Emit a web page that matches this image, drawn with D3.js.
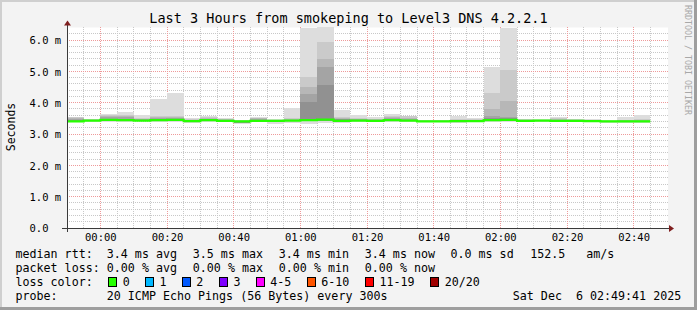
<!DOCTYPE html>
<html><head><meta charset="utf-8">
<script src="https://cdn.jsdelivr.net/npm/d3@7"></script>
<style>
html,body{margin:0;padding:0;background:#f3f3f3;}
svg{display:block;font-family:"DejaVu Sans Mono",monospace;}
text{white-space:pre;}
</style></head><body>
<svg id="chart" width="697" height="310"></svg>
<script>
// ---------- data ----------
const title = "Last 3 Hours from smokeping to Level3 DNS 4.2.2.1";
const yAxisTitle = "Seconds";
const watermark = "RRDTOOL / TOBI OETIKER";
const rangeStart = "2025-12-05T23:50:00";
const rangeEnd   = "2025-12-06T02:50:00";
const yTicks = [0, 1, 2, 3, 4, 5, 6];
const yTickLabels = ["0.0", "1.0 m", "2.0 m", "3.0 m", "4.0 m", "5.0 m", "6.0 m"];
const xTickLabels = ["00:00","00:20","00:40","01:00","01:20","01:40","02:00","02:20","02:40"];

// one value per 5-minute step starting 23:50 (ms)
const median  = [3.40,3.43,3.45,3.44,3.43,3.44,3.45,3.41,3.44,3.42,3.40,3.42,3.42,3.43,3.44,3.46,3.42,3.43,3.42,3.44,3.43,3.40,3.40,3.41,3.41,3.44,3.45,3.42,3.43,3.42,3.42,3.41,3.40,3.40,3.40];
const pingMax = [3.55,3.48,3.64,3.71,3.60,4.12,4.32,3.50,3.57,3.51,3.45,3.55,3.48,3.84,6.38,6.40,3.78,3.60,3.53,3.64,3.59,3.46,3.46,3.57,3.50,5.15,6.38,3.49,3.48,3.55,3.49,3.48,3.45,3.55,3.60];
const ping2   = [3.53,3.47,3.60,3.62,3.52,3.56,3.58,3.48,3.53,3.49,3.44,3.52,3.46,3.50,4.82,5.94,3.55,3.52,3.49,3.57,3.56,3.44,3.44,3.48,3.47,4.32,5.03,3.47,3.46,3.50,3.47,3.46,3.43,3.46,3.47];
const ping3   = [3.51,3.46,3.57,3.58,3.49,3.53,3.54,3.46,3.50,3.47,3.43,3.50,3.45,3.48,4.50,5.40,3.52,3.49,3.47,3.53,3.52,3.43,3.43,3.46,3.45,3.81,4.05,3.45,3.45,3.48,3.45,3.44,3.42,3.44,3.45];
const ping4   = [3.49,3.45,3.53,3.53,3.47,3.50,3.50,3.45,3.48,3.46,3.42,3.48,3.44,3.46,4.29,5.14,3.49,3.47,3.45,3.50,3.49,3.42,3.42,3.44,3.44,3.57,3.55,3.44,3.44,3.46,3.44,3.43,3.41,3.43,3.43];
const ping5   = [3.46,3.44,3.49,3.49,3.45,3.47,3.47,3.44,3.46,3.45,3.41,3.46,3.43,3.45,4.02,4.55,3.47,3.45,3.44,3.47,3.46,3.41,3.41,3.42,3.42,3.50,3.50,3.43,3.43,3.44,3.43,3.42,3.41,3.41,3.41];
const pingLow = [3.38,3.40,3.41,3.41,3.41,3.40,3.41,3.39,3.41,3.40,3.36,3.40,3.38,3.40,3.40,3.42,3.39,3.40,3.40,3.41,3.40,3.38,3.38,3.38,3.39,3.40,3.41,3.39,3.40,3.39,3.39,3.38,3.38,3.38,3.38];
const pingMin = [3.37,3.38,3.38,3.38,3.40,3.37,3.37,3.36,3.38,3.38,3.33,3.38,3.32,3.36,3.33,3.36,3.34,3.37,3.37,3.38,3.38,3.37,3.37,3.36,3.37,3.37,3.37,3.37,3.37,3.37,3.37,3.37,3.36,3.36,3.36];
const smokeColors = ["#dddddd","#cacaca","#b7b7b7","#a4a4a4","#919191"];

const lossLabels = ["0","1","2","3","4-5","6-10","11-19","20/20"];
const lossColors = ["#26ff00","#00b8ff","#0059ff","#7e00ff","#ff00ff","#ff5500","#ff0000","#a00000"];

const legendRtt  = ["median rtt:","3.4 ms avg","3.5 ms max","3.4 ms min","3.4 ms now","0.0 ms sd","152.5","am/s"];
const legendLoss = ["packet loss:","0.00 % avg","0.00 % max","0.00 % min","0.00 % now"];
const legendProbe = ["probe:","20 ICMP Echo Pings (56 Bytes) every 300s","Sat Dec  6 02:49:41 2025"];

// ---------- layout ----------
const W = 697, H = 310;
const L = 67, R = 667, B = 228;
const svg = d3.select("#chart");
const t0 = new Date(rangeStart), t1 = new Date(rangeEnd);
const x = d3.scaleTime().domain([t0, t1]).range([L, R]);
const y = d3.scaleLinear().domain([0, 6.4]).range([B, B - 6.4 * (188 / 6)]);
const snap = v => Math.floor(v) + 0.5;

// background & frame
svg.append("rect").attr("width", W).attr("height", H).attr("fill", "#f3f3f3");
svg.append("rect").attr("x",0).attr("y",0).attr("width",W).attr("height",2).attr("fill","#cfcfcf");
svg.append("rect").attr("x",0).attr("y",0).attr("width",2).attr("height",H).attr("fill","#cfcfcf");
svg.append("rect").attr("x",0).attr("y",H-3).attr("width",W).attr("height",3).attr("fill","#9e9e9e");
svg.append("rect").attr("x",W-3).attr("y",0).attr("width",3).attr("height",H).attr("fill","#9e9e9e");

// canvas
const topY = y(6.4);
svg.append("rect").attr("x", L).attr("y", topY).attr("width", R - L + 1).attr("height", B - topY).attr("fill", "#ffffff");

// grid
const grid = svg.append("g").attr("shape-rendering", "crispEdges");
const minorY = d3.range(1, 32).map(k => k * 0.2).filter(v => Math.abs(v - Math.round(v)) > 1e-6);
grid.selectAll(".hy").data(minorY).join("line")
  .attr("x1", L).attr("x2", R + 2).attr("y1", d => snap(y(d))).attr("y2", d => snap(y(d)))
  .attr("stroke", "#c8c8c8").attr("stroke-dasharray", "1,1");
const minorX = d3.timeMinute.every(5).range(d3.timeMinute.offset(t0, 5), t1).filter(d => d.getMinutes() % 20 !== 0);
grid.selectAll(".vx").data(minorX).join("line")
  .attr("x1", d => snap(x(d))).attr("x2", d => snap(x(d))).attr("y1", topY).attr("y2", B)
  .attr("stroke", "#c8c8c8").attr("stroke-dasharray", "1,1");
grid.selectAll(".Hy").data(yTicks.slice(1)).join("line")
  .attr("x1", L).attr("x2", R + 2).attr("y1", d => snap(y(d))).attr("y2", d => snap(y(d)))
  .attr("stroke", "#ee9a9a").attr("stroke-dasharray", "1,1");
const majorX = d3.timeMinute.every(20).range(t0, t1).filter(d => d.getMinutes() % 20 === 0);
grid.selectAll(".Vx").data(majorX).join("line")
  .attr("x1", d => snap(x(d))).attr("x2", d => snap(x(d))).attr("y1", topY).attr("y2", B)
  .attr("stroke", "#ee9a9a").attr("stroke-dasharray", "1,1");

// smoke
const steps = median.map((m, i) => d3.timeMinute.offset(t0, 5 * i));
const bandTops = [pingMax, ping2, ping3, ping4, ping5];
const smoke = svg.append("g").attr("shape-rendering", "crispEdges");
bandTops.forEach((tops, k) => {
  const lows = k === 0 ? pingMin : pingLow;
  smoke.append("g").selectAll("rect").data(steps).join("rect")
    .attr("x", (d) => Math.round(x(d)))
    .attr("width", (d) => Math.round(x(d3.timeMinute.offset(d, 5))) - Math.round(x(d)))
    .attr("y", (d, i) => y(tops[i]))
    .attr("height", (d, i) => Math.max(0, y(lows[i]) - y(tops[i])))
    .attr("fill", smokeColors[k]);
});

// median line
const medPts = steps.map((d, i) => [x(d), y(median[i])]);
medPts.push([x(d3.timeMinute.offset(steps[steps.length - 1], 5)), y(median[median.length - 1])]);
svg.append("path").attr("d", d3.line().curve(d3.curveStepAfter)(medPts))
  .attr("fill", "none").attr("stroke", lossColors[0]).attr("stroke-width", 2.2);

// axes lines
const axisCol = "#3a3a3a";
svg.append("line").attr("x1", L - 5).attr("x2", R + 3).attr("y1", B + 0.5).attr("y2", B + 0.5).attr("stroke", axisCol);
svg.append("line").attr("x1", L + 0.5).attr("x2", L + 0.5).attr("y1", B + 4).attr("y2", topY - 3).attr("stroke", axisCol);
svg.append("path").attr("d", `M${L - 3},${topY - 2}L${L + 0.5},${topY - 7}L${L + 4},${topY - 2}Z`).attr("fill", "#7f1f1f");
svg.append("path").attr("d", `M${R + 2},${B - 3}L${R + 7},${B + 0.5}L${R + 2},${B + 4}Z`).attr("fill", "#7f1f1f");

// x axis labels
const xAxis = d3.axisBottom(x)
  .tickValues(majorX.filter(d => xTickLabels.includes(d3.timeFormat("%H:%M")(d))))
  .tickFormat(d3.timeFormat("%H:%M")).tickSize(0);
const gx = svg.append("g").attr("transform", `translate(0,${B})`).call(xAxis);
gx.select(".domain").remove();
gx.selectAll("text").attr("y", 13).attr("dy", 0)
  .attr("font-family", "DejaVu Sans Mono").attr("font-size", 10.5).attr("fill", "#000");

// y axis labels
const yAxis = d3.axisLeft(y).tickValues(yTicks).tickFormat((d, i) => yTickLabels[i]).tickSize(0);
const gy = svg.append("g").attr("transform", `translate(${L},0)`).call(yAxis);
gy.select(".domain").remove();
gy.selectAll("text").attr("text-anchor", "start").attr("x", 30 - L - 0.5).attr("dy", "0.36em")
  .attr("font-family", "DejaVu Sans Mono").attr("font-size", 10.5).attr("fill", "#000");

// title
svg.append("text").attr("x", 348.5).attr("y", 23).attr("text-anchor", "middle")
  .attr("font-size", 13.5).attr("fill", "#000").text(title);

// y axis title
svg.append("text").attr("transform", "translate(14.5,127) rotate(-90)").attr("text-anchor", "middle")
  .attr("font-size", 11.5).attr("fill", "#000").text(yAxisTitle);

// watermark
svg.append("text").attr("transform", "translate(685,5) rotate(90)").attr("text-anchor", "start")
  .attr("font-size", 8.3).attr("fill", "#a8a8a8").text(watermark);

// legend
const lg = svg.append("g").attr("font-size", 11.66).attr("fill", "#000");
const rttX = [15.5, 106.8, 192.8, 278.8, 364.8, 450.5, 530.2, 586.2];
legendRtt.forEach((s, i) => lg.append("text").attr("x", rttX[i]).attr("y", 257.5).text(s));
const lossX = [15.5, 106.8, 192.8, 278.8, 364.8];
legendLoss.forEach((s, i) => lg.append("text").attr("x", lossX[i]).attr("y", 271.5).text(s));
lg.append("text").attr("x", 15.5).attr("y", 285.5).text("loss color:");
const boxX = [108.5, 145.5, 182.5, 219.5, 256.5, 307.5, 365.5, 430.5];
const lblX = [122.8, 159.5, 196.2, 233.5, 270.2, 321.2, 379.5, 444.8];
lossLabels.forEach((s, i) => {
  lg.append("rect").attr("x", boxX[i]).attr("y", 277.5).attr("width", 8).attr("height", 9)
    .attr("fill", lossColors[i]).attr("stroke", "#000").attr("stroke-width", 1);
  lg.append("text").attr("x", lblX[i]).attr("y", 285.5).text(s);
});
const probeX = [15.5, 106.8, 512.8];
legendProbe.forEach((s, i) => lg.append("text").attr("x", probeX[i]).attr("y", 299.5).text(s));
</script>
</body></html>
